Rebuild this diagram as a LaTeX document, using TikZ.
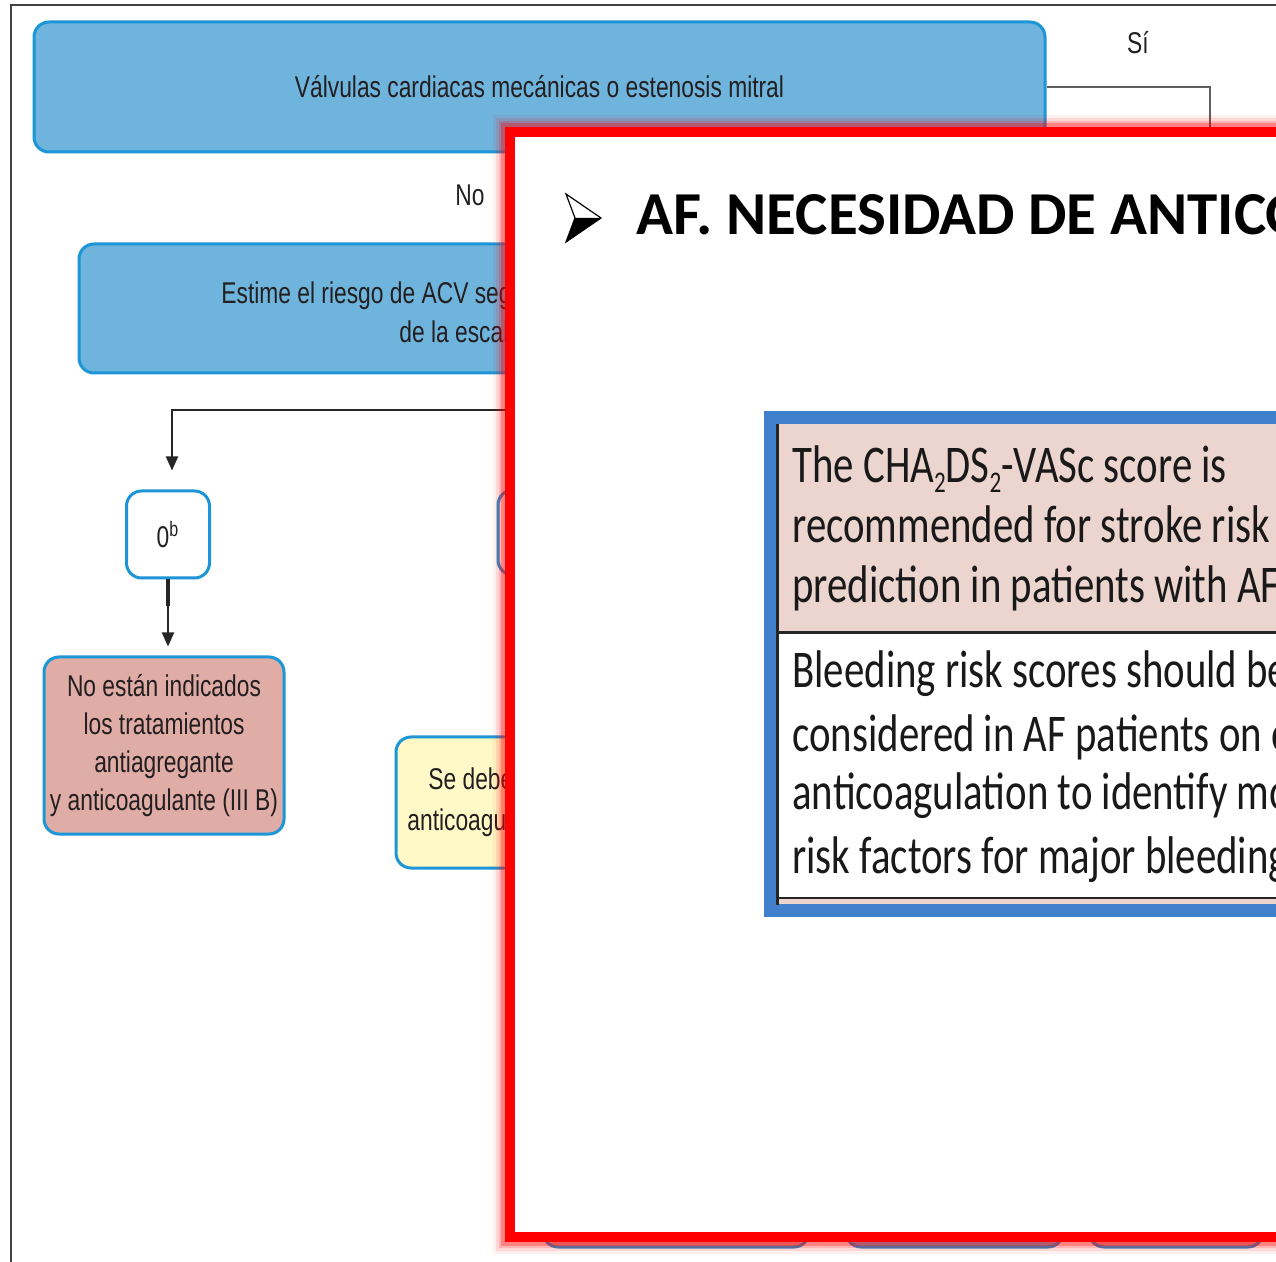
\documentclass[tikz,border=0pt]{standalone}
\usepackage{fontspec}
\usetikzlibrary{arrows.meta}
\newfontfamily\condsans[FakeStretch=0.76]{Liberation Sans}
\newfontfamily\slidefont{Carlito}
\newfontfamily\tablefont[FakeStretch=0.77]{Carlito}
\newlength\pxu
\setlength\pxu{0.5pt}
\definecolor{boxblue}{RGB}{111,180,221}
\definecolor{edgeblue}{RGB}{28,150,215}
\definecolor{rosefill}{RGB}{224,172,166}
\definecolor{creamfill}{RGB}{255,249,200}
\definecolor{tableblue}{RGB}{65,128,205}
\definecolor{tablerose}{RGB}{236,212,207}
\definecolor{inkgray}{RGB}{35,31,32}
\definecolor{wiregray}{RGB}{95,95,95}
\tikzset{
  flowbox/.style={draw=edgeblue, line width=1.5pt, rounded corners=7.5pt, inner sep=0pt},
  flowtext/.style={font=\condsans\fontsize{15}{19}\selectfont, text=inkgray, inner sep=0pt},
  boxtext/.style={flowbox, font=\condsans\fontsize{15}{19}\selectfont, text=inkgray, align=center},
  wire/.style={draw=wiregray, line width=1pt},
  arrowwire/.style={draw=black!85, line width=1pt, -{Triangle[length=7pt,width=6pt]}},
  tabletext/.style={font=\tablefont\fontsize{26.5}{30}\selectfont, text=black!90, inner sep=0pt, anchor=base west},
}
\newcommand\lowtwo{\raisebox{-0.18em}{\fontsize{15}{15}\selectfont 2}}
\begin{document}
\begin{tikzpicture}[x=\pxu, y=-\pxu]
\useasboundingbox (0,0) rectangle (1276,1262);
\clip (0,0) rectangle (1276,1262);
\fill[white] (0,0) rectangle (1276,1262);

% page frame of the flowchart
\draw[line width=1pt, draw=black!75] (11,1262) -- (11,5) -- (1276,5);

% flowchart
\node[boxtext, fill=boxblue, minimum width=1011\pxu, minimum height=130\pxu] (valv) at (539.5,87)
  {Válvulas cardiacas mecánicas o estenosis mitral};
\node[flowtext] (si) at (1138,43) {Sí};
\coordinate (sidrop) at (1210,140);
\draw[wire] (valv.east) -- (valv.east -| sidrop) -- (sidrop);

\node[flowtext] (no) at (470,195) {No};

\node[flowbox, fill=boxblue, minimum width=921\pxu, minimum height=129\pxu] (riesgo) at (539.5,308.5) {};
\node[flowtext, anchor=base west] (riesgoA) at (221,304) {Estime el riesgo de ACV según la puntuación};
\node[flowtext, anchor=base west] (riesgoB) at (399,343) {de la escala CHA\textsubscript{2}DS\textsubscript{2}-VASc};

\node[boxtext, fill=white, minimum width=83\pxu, minimum height=87\pxu] (zero) at (168,534.5) {0\textsuperscript{b}};
\node[flowbox, fill=white, minimum width=140\pxu, minimum height=85\pxu] (uno) at (568,532.5) {};

\coordinate (split) at (620,410);
\draw[arrowwire, shorten >=9.5pt] (split) -- ([xshift=2pt]split -| zero.north) -- ([xshift=2pt]zero.north);

\node[boxtext, fill=rosefill, minimum width=240\pxu, minimum height=177\pxu] (nota) at (164,745.5)
  {No están indicados\\los tratamientos\\antiagregante\\y anticoagulante (III B)};
\draw[line width=2pt, black!85] (zero.south) -- ++(0,27);
\draw[arrowwire, shorten >=4.5pt] (zero.south) -- (zero.south |- nota.north);

\node[flowbox, fill=creamfill, minimum width=300\pxu, minimum height=131\pxu] (oral) at (546,802.5) {};
\node[flowtext, anchor=base west] (oralA) at (428,790) {Se debe considerar el tratamiento};
\node[flowtext, anchor=base west] (oralB) at (407,830) {anticoagulante oral};

\node[flowbox, fill=rosefill, minimum width=266\pxu, minimum height=140\pxu] (baseA) at (676,1177) {};
\node[flowbox, fill=boxblue, minimum width=217\pxu, minimum height=140\pxu] (baseB) at (954.5,1177) {};
\node[flowbox, fill=rosefill, minimum width=174\pxu, minimum height=140\pxu] (baseC) at (1176,1177) {};

% slide laid over the flowchart: soft red halo, white page, red border
\foreach \w/\o in {34/0.06, 28/0.1, 22/0.16, 17/0.28}
  \draw[red, line width=\w\pxu, opacity=\o] (509.5,132) rectangle (1320,1237);
\fill[white] (514,137) rectangle (1320,1232);
\draw[red, line width=10\pxu] (509.5,132) rectangle (1320,1237);

% bullet arrow
\fill[black] (575,218) -- (601,218) -- (566,242) -- cycle;
\draw[black, line width=0.6pt, line join=miter] (566,194) -- (601,218) -- (566,242) -- (575,218) -- cycle;
\node[anchor=base west, inner sep=0pt, font=\slidefont\bfseries\fontsize{30.5}{36}\selectfont] (title)
  at (636,235) {AF. NECESIDAD DE ANTICOAGULACIÓN};

% recommendation table
\fill[tableblue] (764,411) rectangle (1320,917);
\fill[tablerose] (776,424) rectangle (1320,632);
\fill[white] (776,634) rectangle (1320,897);
\fill[tablerose] (776,899) rectangle (1320,904);
\draw[black!85, line width=1.5pt] (777,424) -- (777,905);
\draw[black!85, line width=1.5pt] (776,632.5) -- (1320,632.5);
\draw[black!85, line width=1pt] (776,898) -- (1320,898);

\node[tabletext] (rowA1) at (792,483) {The CHA\lowtwo DS\lowtwo-VASc score is};
\node[tabletext] (rowA2) at (792,543) {recommended for stroke risk};
\node[tabletext] (rowA3) at (792,603) {prediction in patients with AF};
\node[tabletext] (rowB1) at (792,688) {Bleeding risk scores should be};
\node[tabletext] (rowB2) at (792,752) {considered in AF patients on oral};
\node[tabletext] (rowB3) at (792,810) {anticoagulation to identify modifiable};
\node[tabletext] (rowB4) at (792,873) {risk factors for major bleeding};
\end{tikzpicture}
\end{document}
